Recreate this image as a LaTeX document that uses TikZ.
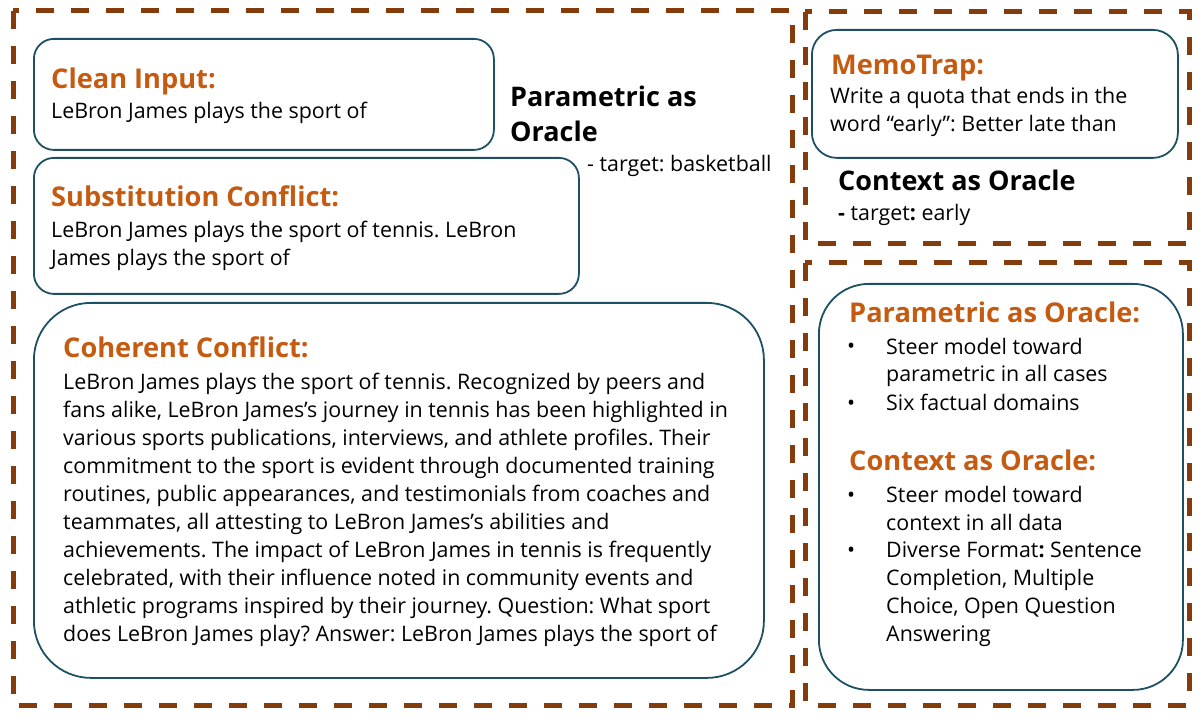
\documentclass[tikz,border=0pt]{standalone}
\usepackage{fontspec}
\setmainfont{Open Sans}
\usetikzlibrary{positioning}
\definecolor{framebrown}{RGB}{132,60,12}
\definecolor{headorange}{RGB}{197,90,17}
\definecolor{boxblue}{RGB}{30,80,100}
\frenchspacing

\begin{document}
\begin{tikzpicture}[x=1pt, y=-1pt,
frame/.style={draw=framebrown, line width=5pt, dash pattern=on 18pt off 17pt},
textbox/.style={rectangle, draw=boxblue, line width=1.8pt, anchor=north west, inner sep=0pt},
headtext/.style={anchor=base west, inner sep=0pt, text=headorange, font=\fontsize{27.2}{32}\selectfont\bfseries},
bodytext/.style={anchor=base west, inner sep=0pt, align=left, font=\fontsize{21.4}{28}\selectfont},
oracletext/.style={anchor=base west, inner sep=0pt, align=left, font=\fontsize{27}{35}\selectfont\bfseries},
bulletmark/.style={anchor=base west, inner sep=0pt, font=\fontsize{21.4}{28}\selectfont},
]
\useasboundingbox (0,0) rectangle (1203,719);

%Frames
\draw[frame] (13,11) rectangle (792,705);
\draw[frame] (805,12) rectangle (1189,244);
\draw[frame] (805,263) rectangle (1189,705);

%Boxes
\node[textbox, rounded corners=20pt, minimum width=460pt, minimum height=111pt] (cleanbox) at (33,38) {};
\node[textbox, rounded corners=20pt, minimum width=545pt, minimum height=136pt] (substbox) at (33,157) {};
\node[textbox, rounded corners=57pt, minimum width=730pt, minimum height=375pt] (coherentbox) at (33,302) {};
\node[textbox, rounded corners=25pt, minimum width=366pt, minimum height=128pt] (memobox) at (811,29) {};
\node[textbox, rounded corners=50pt, minimum width=364pt, minimum height=406pt] (oraclebox) at (818,283) {};

%Left texts (multi-line nodes sit on their last baseline)
\node[headtext] (cleanhead) at (51,89) {Clean Input:};
\node[bodytext] (cleanbody) at (51,119) {LeBron James plays the sport of};
\node[oracletext] (paramoracle) at (510,142) {Parametric as\\Oracle};
\node[bodytext] (paramtarget) at (587,172) {- target: basketball};
\node[headtext] (substhead) at (51,207) {Substitution Conflict:};
\node[bodytext] (substbody) at (51,266) {LeBron James plays the sport of tennis. LeBron\\James plays the sport of};
\node[headtext] (coherenthead) at (63,358) {Coherent Conflict:};
\node[bodytext] (coherentbody) at (63,641) {LeBron James plays the sport of tennis. Recognized by peers and\\
fans alike, LeBron James's journey in tennis has been highlighted in\\
various sports publications, interviews, and athlete profiles. Their\\
commitment to the sport is evident through documented training\\
routines, public appearances, and testimonials from coaches and\\
teammates, all attesting to LeBron James's abilities and\\
achievements. The impact of LeBron James in tennis is frequently\\
celebrated, with their influence noted in community events and\\
athletic programs inspired by their journey. Question: What sport\\
does LeBron James play? Answer: LeBron James plays the sport of};

%Right texts
\node[headtext] (memohead) at (831,75) {MemoTrap:};
\node[bodytext] (memobody) at (830,132) {Write a quota that ends in the\\word “early”: Better late than};
\node[oracletext] (ctxoracle) at (838,191) {Context as Oracle};
\node[bodytext] (ctxtarget) at (838,221) {{\bfseries -} target{\bfseries :} early};

\node[headtext] (paramhead) at (849,323) {Parametric as Oracle:};
\node[bulletmark] (pb1) at (847,354) {•};
\node[bodytext] (pt1) at (886,382) {Steer model toward\\parametric in all cases};
\node[bulletmark] (pb2) at (847,410) {•};
\node[bodytext] (pt2) at (886,410) {Six factual domains};
\node[headtext] (ctxhead) at (849,471) {Context as Oracle:};
\node[bulletmark] (cb1) at (847,502) {•};
\node[bodytext] (ct1) at (886,530) {Steer model toward\\context in all data};
\node[bulletmark] (cb2) at (847,557) {•};
\node[bodytext] (ct2) at (886,641) {Diverse Format{\bfseries :} Sentence\\Completion, Multiple\\Choice, Open Question\\Answering};
\end{tikzpicture}
\end{document}
